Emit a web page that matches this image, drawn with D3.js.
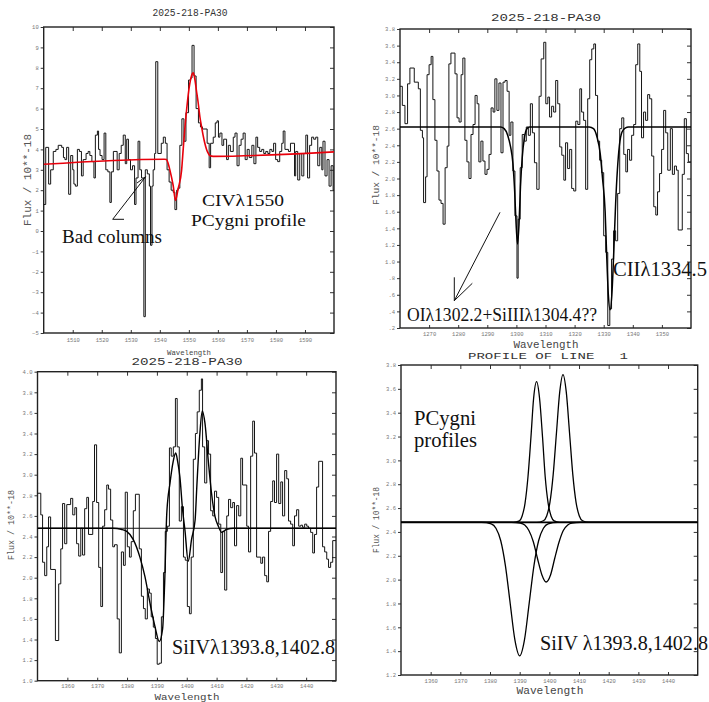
<!DOCTYPE html>
<html><head><meta charset="utf-8">
<script src="https://cdn.jsdelivr.net/npm/d3@7"></script>
<style>body{margin:0;background:#fff}svg{display:block}</style>
</head><body>
<script>
// ---------- Panel 1: CIV 1550 (top-left) ----------
const civWave = [1500.0,1500.7,1501.7,1502.4,1503.3,1504.2,1505.0,1506.2,1506.8,1507.3,
1507.9,1508.6,1509.3,1510.0,1510.4,1510.9,1511.6,1512.3,1513.0,1513.6,
1514.6,1515.3,1515.9,1516.6,1517.3,1517.8,1518.5,1518.9,1519.4,1520.1,
1520.8,1521.4,1522.1,1522.8,1523.3,1524.0,1525.3,1526.0,1526.7,1527.4,
1528.1,1528.6,1529.2,1529.9,1530.6,1531.3,1531.8,1532.5,1533.1,1533.7,
1534.5,1535.0,1535.7,1536.4,1536.8,1537.3,1537.7,1538.2,1538.6,1539.3,
1540.5,1541.2,1541.9,1542.5,1543.2,1543.9,1544.6,1545.2,1545.8,1546.3,
1546.9,1547.6,1548.3,1549.0,1549.9,1550.6,1551.1,1551.8,1552.5,1553.3,
1554.0,1554.7,1556.3,1557.0,1557.5,1558.4,1559.1,1559.7,1560.2,1560.7,
1561.4,1562.0,1563.0,1563.6,1564.3,1565.3,1565.9,1566.6,1567.3,1568.0,
1568.7,1569.4,1570.1,1570.8,1571.7,1572.4,1573.1,1573.7,1574.4,1575.1,
1575.8,1576.5,1577.2,1577.9,1578.6,1579.2,1579.9,1580.6,1581.3,1582.0,
1582.5,1583.1,1584.3,1585.0,1586.4,1586.8,1587.5,1588.2,1588.9,1589.6,
1590.3,1590.9,1591.6,1592.3,1593.0,1593.7,1594.4,1595.1,1595.8,1596.2,
1596.9,1597.6,1598.3,1599.0,1599.7];
const civEnd = 1600.0;
const civFlux = [1.3,4.1,2.3,3.0,3.9,4.0,4.2,4.1,3.6,3.5,
4.1,1.8,3.7,3.0,2.3,2.2,4.0,3.9,2.7,3.5,
3.8,3.9,3.7,3.4,2.6,4.7,4.9,4.0,3.7,3.5,
4.8,3.0,2.9,1.4,2.9,3.9,3.0,3.8,4.2,4.7,
3.3,4.5,3.5,3.0,3.2,1.3,2.6,4.4,3.0,2.6,
-4.2,3.0,2.8,2.2,-0.7,2.2,3.0,3.8,8.3,3.8,
4.3,4.6,4.3,3.0,2.4,2.0,1.9,1.05,2.0,2.1,
4.2,5.5,4.4,5.8,7.4,7.5,9.1,7.6,6.0,5.3,
5.1,5.0,4.3,3.1,4.3,4.6,5.3,5.4,4.6,4.8,
4.2,4.5,3.5,4.2,3.9,4.6,4.8,3.2,4.2,4.5,
4.8,3.5,4.0,3.6,4.2,3.3,4.6,4.1,3.9,4.0,
3.8,3.9,3.8,4.0,3.9,4.3,3.5,3.4,3.9,4.3,
4.9,4.0,3.9,4.3,2.7,3.9,2.5,3.8,2.7,3.8,
4.7,2.6,4.2,4.6,4.5,4.6,3.2,4.1,3.0,4.4,
2.7,3.5,2.2,3.2,2.0];
const civFitWave = [1500,1541.5,1542.3,1542.9,1543.5,1544.6,1545.4,1546.3,1547.5,1548.1,
1548.6,1549.2,1549.8,1550.3,1550.9,1551.5,1552.0,1552.6,1553.2,1553.8,
1554.4,1554.9,1555.5,1556.1,1556.7,1557.2,1558.4,1600];
const civFitFlux = [3.27,3.52,3.50,3.30,2.97,2.23,1.50,2.07,2.97,4.10,
5.00,5.90,6.70,7.20,7.60,7.75,7.50,6.90,6.30,5.60,
5.10,4.70,4.30,4.00,3.80,3.70,3.66,3.88];
const civXTicks = [1510,1520,1530,1540,1550,1560,1570,1580,1590];
const civYTicks = [-5,-4,-3,-2,-1,0,1,2,3,4,5,6,7,8,9,10];

// ---------- Panel 2: OI / CII (top-right) ----------
const oiWave = [1260.0,1260.8,1261.7,1262.6,1263.4,1264.9,1266.3,1267.0,1267.7,1268.1,
1268.8,1269.3,1270.0,1270.7,1271.3,1272.0,1272.7,1273.4,1274.1,1274.8,
1275.5,1276.2,1276.8,1277.5,1278.9,1279.6,1280.3,1281.0,1281.6,1282.3,
1283.0,1283.7,1284.4,1285.1,1285.8,1286.5,1287.1,1287.8,1288.5,1289.2,
1289.9,1290.6,1291.3,1292.0,1292.6,1293.3,1294.0,1294.7,1295.4,1296.1,
1296.8,1297.5,1298.1,1298.8,1299.5,1300.2,1300.6,1301.3,1302.0,1302.7,
1303.4,1304.1,1304.8,1305.5,1306.2,1307.0,1307.8,1308.5,1309.4,1310.1,
1310.8,1311.4,1312.1,1312.8,1313.5,1314.2,1314.9,1315.6,1316.3,1316.9,
1317.6,1318.3,1319.0,1319.7,1320.4,1321.1,1321.8,1322.4,1323.1,1323.8,
1324.5,1325.2,1325.9,1326.6,1327.2,1327.9,1328.6,1329.3,1330.0,1330.7,
1331.4,1332.1,1332.7,1333.4,1334.1,1334.8,1335.5,1336.2,1336.9,1337.6,
1338.2,1338.9,1339.6,1340.3,1341.0,1341.7,1342.4,1343.0,1343.7,1344.4,
1345.1,1345.8,1346.5,1347.2,1347.9,1348.5,1349.2,1349.9,1350.6,1351.3,
1352.0,1352.9,1353.6,1354.3,1355.0,1355.6,1357.0,1357.7,1358.4,1359.1];
const oiEnd = 1360.0;
const oiFlux = [3.11,2.88,2.66,3.14,3.33,3.16,3.08,2.58,2.49,1.71,
2.02,3.25,3.37,3.47,2.95,2.46,2.09,1.74,1.70,1.45,
2.13,2.39,3.38,3.51,3.26,2.73,2.68,3.25,3.45,2.46,
2.20,2.00,2.53,2.65,3.00,2.90,2.20,2.45,2.21,2.05,
2.11,2.29,2.85,2.80,3.20,2.82,3.15,2.31,3.16,3.18,
3.05,2.52,2.68,2.09,1.55,0.80,1.51,2.13,2.53,2.45,
2.62,2.52,2.90,2.55,2.19,1.87,2.99,3.44,3.64,2.90,
2.98,2.74,2.87,2.80,3.18,2.90,2.38,2.28,1.98,2.43,
2.12,2.35,1.88,1.85,2.69,2.65,3.08,2.80,2.70,1.87,
2.96,3.43,3.56,3.62,3.00,2.45,2.22,2.07,1.31,1.11,
0.23,0.43,1.03,1.37,1.25,1.82,2.60,2.73,2.29,2.08,
2.35,2.22,2.52,2.65,3.37,3.62,3.29,2.49,2.80,2.70,
3.01,2.96,2.27,1.66,1.56,1.84,2.06,2.35,2.82,2.55,
2.10,2.60,2.05,2.15,2.10,1.38,2.05,2.72,2.30,2.20];
const oiFitWave = [1260,1294.5,1295.8,1297.0,1298.0,1298.8,1299.4,1299.9,1300.4,1300.9,
1301.4,1302.0,1302.8,1303.6,1304.5,1325.0,1326.5,1327.7,1328.8,1329.6,
1330.5,1331.0,1331.6,1332.2,1332.8,1333.5,1334.1,1334.7,1335.4,1336.3,
1337.5,1338.5,1360];
const oiFitFlux = [2.62,2.62,2.60,2.52,2.38,2.18,1.85,1.45,1.21,1.45,
1.90,2.25,2.50,2.60,2.62,2.62,2.60,2.50,2.30,2.00,
1.60,1.10,0.60,0.42,0.60,1.15,1.70,2.10,2.40,2.56,
2.61,2.62,2.62];
const oiXTicks = [1270,1280,1290,1300,1310,1320,1330,1340,1350];
const oiYTicks = [0.2,0.4,0.6,0.8,1.0,1.2,1.4,1.6,1.8,2.0,2.2,2.4,2.6,2.8,3.0,3.2,3.4,3.6,3.8];

// ---------- Panel 3: SiIV observed (bottom-left) ----------
const sivWave = [1350.0,1351.1,1351.7,1352.4,1353.1,1353.7,1354.4,1356.0,1357.1,1357.8,
1358.4,1359.1,1359.8,1361.1,1361.8,1362.5,1363.1,1363.8,1364.5,1365.1,
1365.8,1366.5,1367.1,1368.5,1369.1,1369.8,1370.5,1371.2,1371.8,1372.5,
1373.2,1373.8,1374.5,1375.2,1375.8,1376.7,1377.4,1378.1,1378.8,1379.4,
1380.1,1380.8,1381.4,1382.1,1382.8,1384.1,1384.8,1385.5,1386.1,1386.8,
1387.5,1388.1,1388.8,1389.5,1390.1,1390.8,1391.5,1392.2,1392.8,1393.5,
1394.2,1394.8,1395.5,1396.2,1396.8,1397.5,1398.2,1398.9,1399.5,1400.2,
1400.9,1401.5,1402.2,1402.9,1403.5,1404.2,1404.9,1405.3,1406.0,1406.7,
1407.3,1408.0,1408.7,1409.3,1410.0,1410.7,1411.4,1412.0,1412.7,1413.4,
1414.0,1414.7,1415.4,1416.0,1416.7,1417.4,1418.1,1418.7,1420.1,1420.7,
1421.4,1422.1,1422.7,1423.4,1424.8,1425.4,1426.1,1426.8,1427.4,1428.1,
1428.8,1429.4,1430.1,1430.8,1431.5,1432.1,1432.8,1433.5,1434.1,1434.8,
1435.5,1436.1,1436.8,1437.5,1438.2,1438.8,1439.5,1440.2,1440.8,1441.5,
1442.2,1442.8,1443.5,1444.2,1445.5,1446.2,1446.9,1447.5,1448.2,1448.9];
const sivEnd = 1450.0;
const sivFlux = [2.82,2.61,2.15,2.02,2.30,2.59,2.08,1.39,1.94,2.28,
2.72,2.33,2.71,2.77,2.61,2.68,2.33,2.21,2.48,2.22,
2.67,2.78,2.42,2.74,3.29,2.73,2.10,1.72,2.50,2.66,
2.90,2.86,2.56,2.30,2.32,1.60,1.27,2.25,2.12,2.83,
2.30,2.20,2.35,2.65,2.81,2.28,1.82,1.70,1.60,1.89,
1.85,1.62,1.52,1.41,1.16,1.17,1.62,2.05,2.45,2.50,
3.26,3.18,3.27,3.74,3.27,2.55,2.69,2.20,2.17,1.72,
1.65,2.20,3.15,3.40,3.61,3.82,3.93,3.27,2.92,3.33,
3.20,2.65,2.60,2.84,2.78,2.52,2.05,2.45,1.88,2.60,
2.76,2.68,2.73,2.31,2.70,2.60,3.16,2.90,2.50,2.25,
3.18,3.52,3.21,2.20,2.14,2.20,2.02,1.96,2.45,2.74,
2.94,2.73,3.20,2.72,2.93,2.60,3.04,2.96,2.55,2.52,
2.31,2.60,2.66,2.50,2.51,2.49,2.52,2.50,2.48,2.44,
2.24,2.42,2.88,3.13,2.30,2.25,2.18,2.10,2.15,2.36];
const sivContinuum = 2.48;
const sivFitWave = [1350,1375.4,1378.0,1379.9,1382.1,1384.3,1386.0,1387.7,1389.4,1390.8,
1391.9,1392.6,1393.3,1394.4,1395.4,1396.3,1397.0,1397.7,1398.6,1399.4,
1400.5,1401.6,1402.8,1403.4,1404.4,1405.2,1406.1,1407.2,1408.3,1409.5,
1410.6,1411.7,1413.4,1415.6,1450];
const sivFitFlux = [2.48,2.48,2.47,2.45,2.37,2.20,2.01,1.75,1.52,1.38,
1.50,1.95,2.62,2.92,3.12,3.21,3.12,2.98,2.66,2.46,
2.16,2.37,2.56,2.90,3.40,3.62,3.50,3.14,2.82,2.59,
2.50,2.44,2.47,2.48,2.48];
const sivXTicks = [1360,1370,1380,1390,1400,1410,1420,1430,1440];
const sivYTicks = [1.0,1.2,1.4,1.6,1.8,2.0,2.2,2.4,2.6,2.8,3.0,3.2,3.4,3.6,3.8,4.0];

// ---------- Panel 4: model P Cygni profiles (bottom-right) ----------
const profContinuum = 2.48;
const em1Wave = [1350,1387.9,1389.9,1390.8,1391.8,1392.8,1393.8,1394.7,1395.7,1396.7,1397.7,1398.6,1399.6,1400.6,1401.6,1403.5,1450];
const em1Flux = [2.48,2.48,2.493,2.532,2.640,2.863,3.196,3.521,3.66,3.521,3.196,2.863,2.640,2.532,2.493,2.48,2.48];
const em2Wave = [1350,1395.8,1398.0,1399.1,1400.2,1401.3,1402.4,1403.5,1404.6,1405.7,1406.8,1407.9,1409.0,1410.1,1411.2,1413.4,1450];
const em2Flux = [2.48,2.48,2.494,2.534,2.648,2.883,3.232,3.574,3.72,3.574,3.232,2.883,2.648,2.534,2.494,2.48,2.48];
const abs1Wave = [1350,1377.2,1380.4,1382.0,1383.6,1385.2,1386.8,1388.4,1390.0,1391.6,1393.2,1394.8,1396.4,1398.0,1399.6,1402.8,1450];
const abs1Flux = [2.48,2.48,2.468,2.431,2.328,2.116,1.801,1.492,1.36,1.492,1.801,2.116,2.328,2.431,2.468,2.48,2.48];
const abs2Wave = [1350,1387.3,1390.2,1391.7,1393.1,1394.6,1396.0,1397.5,1398.9,1400.4,1401.8,1403.3,1404.7,1406.2,1407.6,1410.5,1450];
const abs2Flux = [2.48,2.48,2.474,2.458,2.412,2.318,2.177,2.039,1.98,2.039,2.177,2.318,2.412,2.458,2.474,2.48,2.48];
const profXTicks = [1360,1370,1380,1390,1400,1410,1420,1430,1440];
const profYTicks = [1.2,1.4,1.6,1.8,2.0,2.2,2.4,2.6,2.8,3.0,3.2,3.4,3.6,3.8];

// ================= drawing =================
const MONO = "'Liberation Mono','DejaVu Sans Mono',monospace";
const SERIF = "'Liberation Serif','Times New Roman',serif";
const svg = d3.select('body').append('svg').attr('width',709).attr('height',702);
svg.append('rect').attr('width',709).attr('height',702).attr('fill','#fff');

const f1 = d3.format('.1f');
function panel(c){
  const x = d3.scaleLinear().domain(c.xd).range([c.l,c.r]);
  const y = d3.scaleLinear().domain(c.yd).range([c.b,c.t]);
  const g = svg.append('g');
  const style = sel => {
    sel.select('.domain').remove();
    sel.selectAll('.tick line').attr('stroke','#333').attr('stroke-width',1);
    sel.selectAll('.tick text').attr('font-family',MONO).attr('font-size',5.5).attr('fill','#777');
  };
  g.append('g').attr('transform',`translate(0,${c.b})`)
    .call(d3.axisBottom(x).tickValues(c.xt).tickSizeInner(-3).tickSizeOuter(0).tickPadding(c.xpad).tickFormat(d3.format('d'))).call(style);
  g.append('g').attr('transform',`translate(0,${c.t})`)
    .call(d3.axisTop(x).tickValues(c.xt).tickSizeInner(-4).tickSizeOuter(0).tickFormat('')).call(style);
  g.append('g').attr('transform',`translate(${c.l},0)`)
    .call(d3.axisLeft(y).tickValues(c.yt).tickSizeInner(3).tickSizeOuter(0).tickPadding(2).tickFormat(c.yf)).call(style);
  g.append('g').attr('transform',`translate(${c.r},0)`)
    .call(d3.axisRight(y).tickValues(c.yt).tickSizeInner(-4).tickSizeOuter(0).tickFormat('')).call(style);
  g.append('rect').attr('x',c.l).attr('y',c.t).attr('width',c.r-c.l).attr('height',c.b-c.t)
    .attr('fill','none').attr('stroke','#222').attr('stroke-width',1.4);
  const clipId = 'clip'+Math.round(c.l)+'_'+Math.round(c.t);
  svg.append('clipPath').attr('id',clipId).append('rect')
    .attr('x',c.l).attr('y',c.t).attr('width',c.r-c.l).attr('height',c.b-c.t);
  const plot = svg.append('g').attr('clip-path',`url(#${clipId})`);
  return {x,y,plot};
}
function steps(p, wave, flux, end){
  const pts = wave.map((w,i)=>[w,flux[i]]);
  pts.push([end, flux[flux.length-1]]);
  p.plot.append('path').attr('d', d3.line().x(d=>p.x(d[0])).y(d=>p.y(d[1])).curve(d3.curveStepAfter)(pts))
    .attr('fill','none').attr('stroke','#151515').attr('stroke-width',1);
}
function smooth(p, wave, flux, color, w){
  const pts = wave.map((v,i)=>[v,flux[i]]);
  p.plot.append('path').attr('d', d3.line().x(d=>p.x(d[0])).y(d=>p.y(d[1])).curve(d3.curveMonotoneX)(pts))
    .attr('fill','none').attr('stroke',color).attr('stroke-width',w);
}
function text(x,y,s,o){
  const t = svg.append('text').attr('x',x).attr('y',y).text(s)
    .attr('font-family',o.font||MONO).attr('font-size',o.size||10).attr('fill',o.fill||'#111')
    .attr('text-anchor',o.anchor||'start').style('white-space','pre');
  if(o.len) t.attr('textLength',o.len).attr('lengthAdjust','spacingAndGlyphs');
  if(o.rot) t.attr('transform',`rotate(-90,${x},${y})`);
  return t;
}
function line(x1,y1,x2,y2){
  svg.append('line').attr('x1',x1).attr('y1',y1).attr('x2',x2).attr('y2',y2).attr('stroke','#111').attr('stroke-width',1);
}
const yFmt2 = d => { const s = f1(d); return d < 1 ? s.replace(/^0/,'') : s; };

// Panel 1
const p1 = panel({l:43.7,r:334,t:27,b:333,xd:[1500,1600],yd:[-5,10],xt:civXTicks,yt:civYTicks,yf:d3.format('d'),xpad:5});
steps(p1, civWave, civFlux, civEnd);
smooth(p1, civFitWave, civFitFlux, '#e8000b', 1.6);
text(190,16,'2025-218-PA30',{size:10,len:75,anchor:'middle',fill:'#333'});
text(189,354.5,'Wavelength',{size:7,len:44,anchor:'middle',fill:'#444'});
text(31,180,'Flux / 10**-18',{size:10,len:92,anchor:'middle',fill:'#555',rot:true});
text(202,206,'CIVλ1550',{font:SERIF,size:17,len:82});
text(191,226,'PCygni profile',{font:SERIF,size:17,len:115});
text(62,243,'Bad columns',{font:SERIF,size:19,len:100});
line(112.7,219.3,145.7,176.7); line(112.7,219.3,124,219.3); line(137,183,145.7,176.7);

// Panel 2
const p2 = panel({l:400,r:691,t:29,b:328,xd:[1260,1360],yd:[0.2,3.8],xt:oiXTicks,yt:oiYTicks,yf:yFmt2,xpad:4});
steps(p2, oiWave, oiFlux, oiEnd);
smooth(p2, oiFitWave, oiFitFlux, '#000', 1.5);
text(546,21,'2025-218-PA30',{size:10,len:110,anchor:'middle',fill:'#333'});
text(546,348,'Wavelength',{size:10,len:65,anchor:'middle',fill:'#444'});
text(379,165,'Flux / 10**-18',{size:8.5,len:80,anchor:'middle',fill:'#555',rot:true});
text(407,321,'OIλ1302.2+SiIIIλ1304.4??',{font:SERIF,size:18,len:190});
text(613,276,'CIIλ1334.5',{font:SERIF,size:20,len:94});
line(500,212.3,454.3,300.7); line(454.3,300.7,454.3,277.3); line(454.3,300.7,472.3,283.3);

// Panel 3
const p3 = panel({l:37.5,r:336,t:371.7,b:680.7,xd:[1350,1450],yd:[1,4],xt:sivXTicks,yt:sivYTicks,yf:f1,xpad:3});
p3.plot.append('line').attr('x1',p3.x(1350)).attr('x2',p3.x(1450)).attr('y1',p3.y(sivContinuum)).attr('y2',p3.y(sivContinuum))
  .attr('stroke','#111').attr('stroke-width',1);
steps(p3, sivWave, sivFlux, sivEnd);
smooth(p3, sivFitWave, sivFitFlux, '#000', 1.4);
text(187,364.5,'2025-218-PA30',{size:10,len:111,anchor:'middle',fill:'#333'});
text(187,699.5,'Wavelength',{size:9.5,len:65,anchor:'middle',fill:'#444'});
text(14,525,'Flux / 10**-18',{size:8.5,len:70,anchor:'middle',fill:'#555',rot:true});
text(172,654,'SiIVλ1393.8,1402.8',{font:SERIF,size:20,len:163});

// Panel 4
const p4 = panel({l:401,r:697.7,t:365,b:675,xd:[1350,1450],yd:[1.2,3.8],xt:profXTicks,yt:profYTicks,yf:f1,xpad:4});
p4.plot.append('line').attr('x1',p4.x(1350)).attr('x2',p4.x(1450)).attr('y1',p4.y(profContinuum)).attr('y2',p4.y(profContinuum))
  .attr('stroke','#000').attr('stroke-width',1.6);
smooth(p4, abs1Wave, abs1Flux, '#000', 1.3);
smooth(p4, abs2Wave, abs2Flux, '#000', 1.3);
smooth(p4, em1Wave, em1Flux, '#000', 1.3);
smooth(p4, em2Wave, em2Flux, '#000', 1.3);
text(548,358.5,'PROFILE OF LINE   1',{size:9,len:160,anchor:'middle',fill:'#333'});
text(550,694,'Wavelength',{size:10,len:67,anchor:'middle',fill:'#444'});
text(379,520,'Flux / 10**-18',{size:8.5,len:66,anchor:'middle',fill:'#555',rot:true});
text(414,425,'PCygni',{font:SERIF,size:21,len:62});
text(414,447,'profiles',{font:SERIF,size:21,len:63});
text(540,650,'SiIV λ1393.8,1402.8',{font:SERIF,size:20,len:168});
</script>
</body></html>
